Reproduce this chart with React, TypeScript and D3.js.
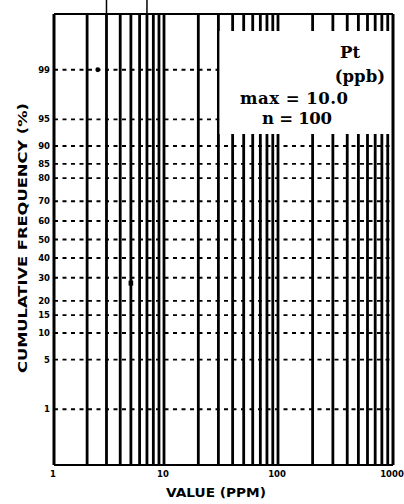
import React from "react";
import * as d3 from "d3";

// ---- data ----
const probTicks = [1, 5, 10, 15, 20, 30, 40, 50, 60, 70, 80, 85, 90, 95, 99];
const decadeValues = [1, 10, 100, 1000];
const decadeLabels = ["1", "10", "100", "1000"];
const pointValues = [2.5, 5.0];
const pointFreqs = [99, 27.5];
const pointShapes = ["circle", "square"];
const topMarkValues = [3, 7];
const insetLines = ["Pt", "(ppb)", "max = 10.0", "n = 100"];
const xTitle = "VALUE (PPM)";
const yTitle = "CUMULATIVE FREQUENCY (%)";

// inverse normal CDF (Acklam)
function qnorm(p: number): number {
  const a = [-3.969683028665376e1, 2.209460984245205e2, -2.759285104469687e2, 1.38357751867269e2, -3.066479806614716e1, 2.506628277459239];
  const b = [-5.447609879822406e1, 1.615858368580409e2, -1.556989798598866e2, 6.680131188771972e1, -1.328068155288572e1];
  const c = [-7.784894002430293e-3, -3.223964580411365e-1, -2.400758277161838, -2.549732539343734, 4.374664141464968, 2.938163982698783];
  const d = [7.784695709041462e-3, 3.224671290700398e-1, 2.445134137142996, 3.754408661907416];
  const pl = 0.02425;
  let q, r;
  if (p < pl) {
    q = Math.sqrt(-2 * Math.log(p));
    return (((((c[0] * q + c[1]) * q + c[2]) * q + c[3]) * q + c[4]) * q + c[5]) / ((((d[0] * q + d[1]) * q + d[2]) * q + d[3]) * q + 1);
  } else if (p <= 1 - pl) {
    q = p - 0.5;
    r = q * q;
    return ((((((a[0] * r + a[1]) * r + a[2]) * r + a[3]) * r + a[4]) * r + a[5]) * q) / (((((b[0] * r + b[1]) * r + b[2]) * r + b[3]) * r + b[4]) * r + 1);
  } else {
    q = Math.sqrt(-2 * Math.log(1 - p));
    return -(((((c[0] * q + c[1]) * q + c[2]) * q + c[3]) * q + c[4]) * q + c[5]) / ((((d[0] * q + d[1]) * q + d[2]) * q + d[3]) * q + 1);
  }
}

const L = 54, R = 393, T = 14, B = 465;

export default function App() {
  const x = d3.scaleLog().domain([1, 10, 100, 1000]).range([L, 164, 278, R]);
  const zScale = d3.scaleLinear().domain([qnorm(0.001), qnorm(0.999)]).range([B, T]);
  const y = (pct: number) => zScale(qnorm(pct / 100));
  const gridVals = x.ticks().filter((v) => v > 1 && v < 1000);

  const box = { x0: 219.5, x1: 391.5, y0: 31, y1: 134 };
  const insetFont = { fontFamily: "DejaVu Serif", fontWeight: "bold" as const, fontSize: 16.5, fill: "#000" };

  return (
    <svg width={404} height={504} style={{ position: "absolute", left: 0, top: 0, background: "#fff" }}>
      <rect x={0} y={0} width={404} height={504} fill="#fff" />
      {/* horizontal dashed grid */}
      {probTicks.map((p) => (
        <line key={"h" + p} x1={L} x2={R} y1={y(p)} y2={y(p)} stroke="#000" strokeWidth={1.8} strokeDasharray="4 4.5" />
      ))}
      {/* vertical grid */}
      {gridVals.map((v) => (
        <line key={"v" + v} x1={x(v)} x2={x(v)} y1={T} y2={B} stroke="#000" strokeWidth={2.8} />
      ))}
      {/* marks above plot */}
      {topMarkValues.map((v) => (
        <line key={"t" + v} x1={x(v)} x2={x(v)} y1={0} y2={T} stroke="#000" strokeWidth={1.5} />
      ))}
      {/* white inset box */}
      <rect x={box.x0} y={box.y0} width={box.x1 - box.x0} height={box.y1 - box.y0} fill="#fff" />
      {/* frame */}
      <line x1={L} x2={L} y1={T} y2={B} stroke="#000" strokeWidth={3} />
      <line x1={R} x2={R} y1={T} y2={B} stroke="#000" strokeWidth={3} />
      <line x1={L} x2={R} y1={T} y2={T} stroke="#000" strokeWidth={1.8} />
      <line x1={L} x2={R} y1={B} y2={B} stroke="#000" strokeWidth={1.8} />
      {/* points */}
      {pointValues.map((v, i) =>
        pointShapes[i] === "circle" ? (
          <circle key={"p" + i} cx={x(v)} cy={y(pointFreqs[i])} r={2.4} fill="#000" />
        ) : (
          <rect key={"p" + i} x={x(v) - 2.3} y={y(pointFreqs[i]) - 2.5} width={4.6} height={5} fill="#000" />
        )
      )}
      {/* y tick labels */}
      {probTicks.map((p) => (
        <text key={"yl" + p} x={50} y={y(p) + 3} textAnchor="end" fontFamily="DejaVu Sans" fontWeight="bold" fontSize={8.5} fill="#000">
          {p}
        </text>
      ))}
      {/* x tick labels */}
      {decadeValues.map((v, i) => (
        <text key={"xl" + v} x={x(v) - 1} y={477} textAnchor="middle" fontFamily="DejaVu Sans" fontWeight="bold" fontSize={8.5} fill="#000">
          {decadeLabels[i]}
        </text>
      ))}
      {/* axis titles */}
      <text x={166} y={497} textLength={100} lengthAdjust="spacingAndGlyphs" fontFamily="DejaVu Sans" fontWeight="bold" fontSize={13} fill="#000">
        {xTitle}
      </text>
      <text
        transform="translate(27,238) rotate(-90)"
        textAnchor="middle"
        textLength={270}
        lengthAdjust="spacingAndGlyphs"
        fontFamily="DejaVu Sans"
        fontWeight="bold"
        fontSize={13}
        fill="#000"
      >
        {yTitle}
      </text>
      {/* inset text */}
      <text x={360} y={58} textAnchor="end" {...insetFont}>{insetLines[0]}</text>
      <text x={385} y={82} textAnchor="end" {...insetFont}>{insetLines[1]}</text>
      <text x={240} y={104} textLength={108} lengthAdjust="spacing" {...insetFont}>{insetLines[2]}</text>
      <text x={262} y={124} textLength={70} lengthAdjust="spacing" {...insetFont}>{insetLines[3]}</text>
    </svg>
  );
}
